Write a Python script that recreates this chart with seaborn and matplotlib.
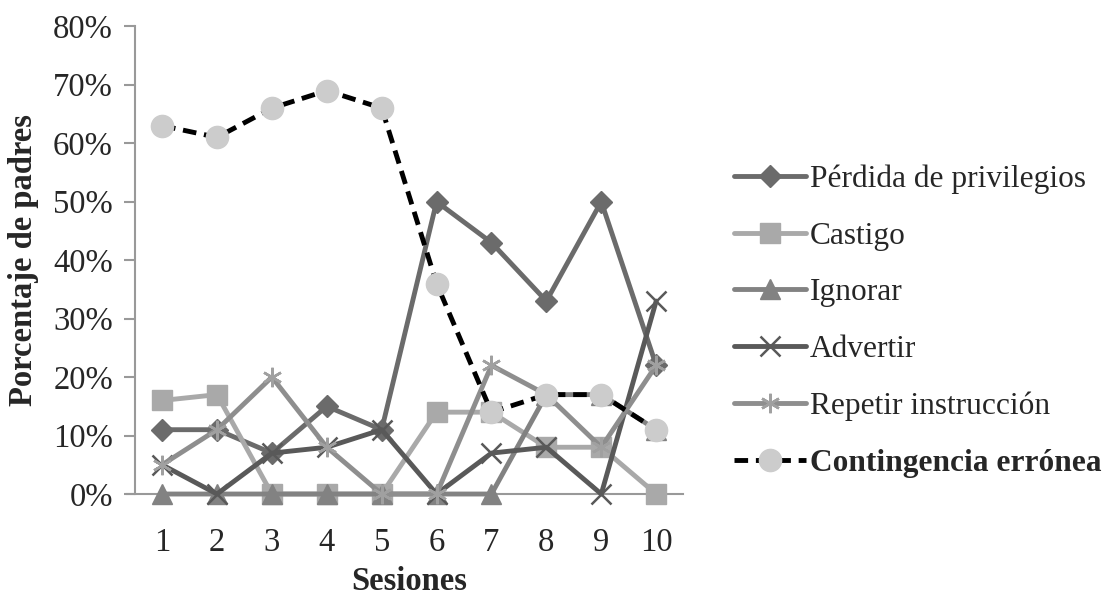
import matplotlib
matplotlib.use("Agg")
import matplotlib.pyplot as plt
import seaborn as sns
import pandas as pd

sesiones = [1, 2, 3, 4, 5, 6, 7, 8, 9, 10]
perdida = [11, 11, 7, 15, 11, 50, 43, 33, 50, 22]
castigo = [16, 17, 0, 0, 0, 14, 14, 8, 8, 0]
ignorar = [0, 0, 0, 0, 0, 0, 0, 17, 17, 11]
advertir = [5, 0, 7, 8, 11, 0, 7, 8, 0, 33]
repetir = [5, 11, 20, 8, 0, 0, 22, 17, 8, 22]
contingencia = [63, 61, 66, 69, 66, 36, 14, 17, 17, 11]
series_names = ["Pérdida de privilegios", "Castigo", "Ignorar", "Advertir",
                "Repetir instrucción", "Contingencia errónea"]
y_ticks = [0, 10, 20, 30, 40, 50, 60, 70, 80]

sns.set_style("white")
plt.rcParams['font.family'] = ['Liberation Serif', 'DejaVu Serif']

FS = 23.5
LFS = 22.6

fig = plt.figure(figsize=(11.08, 5.97), dpi=100)
ax = fig.add_axes([0.122, 0.1725, 0.4945, 0.7835])

styles = [
    dict(color="#6b6b6b", marker="D", ms=11, mfc="#6b6b6b", mec="#6b6b6b", ls="-"),
    dict(color="#a9a9a9", marker="s", ms=14, mfc="#a9a9a9", mec="#a9a9a9", ls="-"),
    dict(color="#828282", marker="^", ms=15, mfc="#828282", mec="#828282", ls="-"),
    dict(color="#595959", marker="x", ms=14, mfc="#595959", mec="#595959", mew=1.8, ls="-"),
    dict(color="#8e8e8e", marker=(6, 2, 0), ms=14, mfc="#a0a0a0", mec="#a0a0a0", mew=1.8, ls="-"),
    dict(color="black", marker="o", ms=16, mfc="#cccccc", mec="#cccccc", ls=(0, (2.8, 1.6))),
]
values = [perdida, castigo, ignorar, advertir, repetir, contingencia]

for name, vals, st in zip(series_names, values, styles):
    df = pd.DataFrame({"Sesiones": sesiones, "Valor": vals})
    sns.lineplot(data=df, x="Sesiones", y="Valor", ax=ax, label=name,
                 color=st["color"], marker=st["marker"], markersize=st["ms"],
                 markerfacecolor=st["mfc"], markeredgecolor=st["mec"],
                 markeredgewidth=st.get("mew", 1.0), linestyle=st["ls"],
                 linewidth=3.5, clip_on=False, zorder=3)

ax.set_xlim(0.51, 10.49)
ax.set_ylim(0, 80)
ax.set_yticks(y_ticks)
ax.set_yticklabels([f"{t}%" for t in y_ticks])
ax.set_xticks(sesiones)
ax.set_xticklabels([str(s) for s in sesiones])
ax.tick_params(axis="y", which="both", length=8, width=1.5, color="#999999",
               labelsize=FS, pad=8, left=True, direction="out")
ax.tick_params(axis="x", length=0, labelsize=FS, pad=24)

for sp in ["top", "right"]:
    ax.spines[sp].set_visible(False)
ax.spines["left"].set_color("#999999")
ax.spines["left"].set_linewidth(1.5)
ax.spines["bottom"].set_color("#999999")
ax.spines["bottom"].set_linewidth(1.5)
ax.spines["bottom"].set_bounds(0.36, 10.49)

ax.set_xlabel("Sesiones", fontsize=FS, fontweight="bold", labelpad=6)
ax.set_ylabel("Porcentaje de padres", fontsize=FS, fontweight="bold", labelpad=10)

leg = ax.legend(loc="center left", bbox_to_anchor=(1.07, 0.37), frameon=False,
                fontsize=LFS, handlelength=2.3, handletextpad=0.12,
                labelspacing=0.88, borderaxespad=0)
for txt in leg.get_texts():
    if txt.get_text() == "Contingencia errónea":
        txt.set_fontweight("bold")

fig.savefig("out.png", dpi=100)
